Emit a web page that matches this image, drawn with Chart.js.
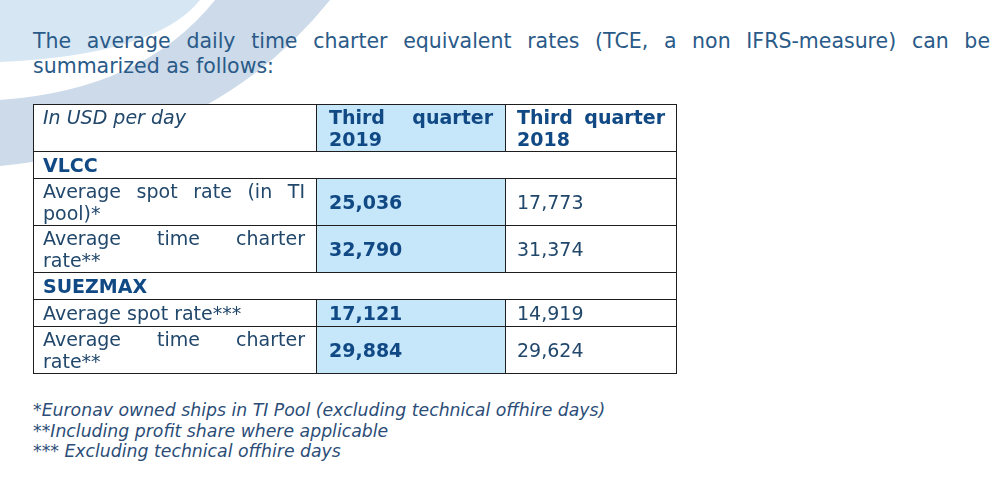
<!DOCTYPE html>
<html>
<head>
<meta charset="utf-8">
<script src="https://cdn.jsdelivr.net/npm/chart.js@4.4.1/dist/chart.umd.min.js"></script>
<style>
html, body { margin: 0; padding: 0; background: #fff; }
body { width: 1000px; height: 479px; position: relative; overflow: hidden; font-family: "DejaVu Sans", Verdana, sans-serif; }
#bg { position: absolute; left: 0; top: 0; }
#intro { position: absolute; left: 33px; top: 29px; width: 957px; font-size: 20.5px; line-height: 25px; color: #2a5a88; }
#intro .l1 { text-align: justify; text-align-last: justify; white-space: nowrap; }
#box { position: absolute; left: 32px; top: 103px; }
#notes { position: absolute; left: 33px; top: 400px; font-style: italic; font-size: 17.3px; line-height: 20.5px; color: #2b4d77; }
</style>
</head>
<body>
<svg id="bg" width="1000" height="479">
  <path d="M0,0 L200,0 Q156,55 0,62 Z" fill="#d7e6f3"/>
  <path d="M215,0 L330,0 Q214,145 0,166 L0,100 Q143,90 215,0 Z" fill="#ccdae9"/>
</svg>
<div id="intro">
  <div class="l1">The average daily time charter equivalent rates (TCE, a non IFRS-measure) can be</div>
  <div>summarized as follows:</div>
</div>
<div id="box"><canvas id="tbl"></canvas></div>
<div id="notes"></div>
<script>
// table content
const columnHeads = ['In USD per day', 'Third quarter 2019', 'Third quarter 2018'];
const segmentNames = ['VLCC', 'SUEZMAX'];
const rateLabels = ['Average spot rate (in TI pool)*', 'Average time charter rate**', 'Average spot rate***', 'Average time charter rate**'];
const rateSegments = ['VLCC', 'VLCC', 'SUEZMAX', 'SUEZMAX'];
const q3_2019 = [25036, 32790, 17121, 29884];
const q3_2018 = [17773, 31374, 14919, 29624];
const footnotes = [
  '*Euronav owned ships in TI Pool (excluding technical offhire days)',
  '**Including profit share where applicable',
  '*** Excluding technical offhire days'
];

// layout
var colEdges = [0, 283, 472, 644];
var padL = [10, 13, 12];
var padR = [11, 12, 12];
var fontPx = 19;
var lineStep = 22;
var regularColor = '#21476b';
var boldColor = '#114984';
var shade = '#c6e6fa';
var family = '"DejaVu Sans", Verdana, sans-serif';

document.getElementById('notes').innerHTML = footnotes.map(function(t){ return '<div>' + t.replace(/</g, '&lt;') + '</div>'; }).join('');

function cellFont(kind, c) {
  if (kind === 'head') return (c === 0 ? 'italic ' : 'bold ') + fontPx + 'px ' + family;
  if (kind === 'seg') return 'bold ' + fontPx + 'px ' + family;
  return (c === 1 ? 'bold ' : '') + fontPx + 'px ' + family;
}

var mctx = document.createElement('canvas').getContext('2d');
function wrap(text, font, width) {
  mctx.font = font;
  var words = text.split(' '), lines = [], cur = [];
  words.forEach(function(w){
    var t = cur.concat(w).join(' ');
    if (cur.length && mctx.measureText(t).width > width) { lines.push(cur); cur = [w]; }
    else cur.push(w);
  });
  lines.push(cur);
  return lines;
}

var rows = [{kind: 'head', texts: columnHeads}];
segmentNames.forEach(function(seg){
  rows.push({kind: 'seg', texts: [seg]});
  rateLabels.forEach(function(lab, i){
    if (rateSegments[i] !== seg) return;
    rows.push({kind: 'rate', texts: [lab, q3_2019[i].toLocaleString('en-US'), q3_2018[i].toLocaleString('en-US')]});
  });
});

var yPos = 0;
rows.forEach(function(row, r){
  var n = 1;
  row.lines = row.texts.map(function(t, c){
    var w = row.kind === 'seg' ? colEdges[3] - padL[0] - padR[2] : colEdges[c + 1] - colEdges[c] - padL[c] - padR[c];
    var l = wrap(t, cellFont(row.kind, c), w);
    n = Math.max(n, l.length);
    return l;
  });
  row.h = (n === 1 ? 27 : 47) + (r === rows.length - 1 ? 1 : 0);
  row.top = yPos;
  row.mid = yPos + row.h / 2;
  yPos += row.h;
});
var tableH = yPos;

var canvas = document.getElementById('tbl');
canvas.width = colEdges[3] + 2;
canvas.height = tableH + 2;

var cellText = {
  id: 'cellText',
  afterDatasetsDraw: function(chart) {
    var ctx = chart.ctx;
    ctx.save();
    rows.forEach(function(row, r){
      var meta = chart.getDatasetMeta(r);
      meta.data.forEach(function(bar, c){
        var left = Math.min(bar.x, bar.base), right = Math.max(bar.x, bar.base);
        var top = bar.y - bar.height / 2, h = bar.height;
        if (r === rows.length - 1) h -= 1;
        var lines = row.lines[c];
        ctx.font = cellFont(row.kind, c);
        ctx.fillStyle = (row.kind === 'seg' || (row.kind === 'head' && c > 0) || (row.kind === 'rate' && c === 1)) ? boldColor : regularColor;
        ctx.textBaseline = 'alphabetic';
        ctx.textAlign = 'left';
        var x0 = left + padL[c];
        var w = right - (row.kind === 'seg' ? padR[2] : padR[c]) - x0;
        var cy = (row.kind === 'head' && c === 0) ? top + 13 : top + h / 2 - (lines.length - 1) * lineStep / 2;
        lines.forEach(function(words, li){
          var base = cy + li * lineStep + 7;
          if (li < lines.length - 1 && words.length > 1) {
            var ws = words.map(function(wd){ return ctx.measureText(wd).width; });
            var sum = ws.reduce(function(a, b){ return a + b; }, 0);
            var gap = (w - sum) / (words.length - 1);
            var xx = x0;
            words.forEach(function(wd, k){ ctx.fillText(wd, xx, base); xx += ws[k] + gap; });
          } else {
            ctx.fillText(words.join(' '), x0, base);
          }
        });
      });
    });
    ctx.restore();
  }
};

new Chart(canvas, {
  type: 'bar',
  data: {
    datasets: rows.map(function(row, r){
      return {
        label: 'row' + r,
        stack: 'table',
        barThickness: row.h,
        inflateAmount: 0,
        borderSkipped: false,
        clip: false,
        data: row.texts.map(function(t, c){
          return {y: row.mid, x: row.kind === 'seg' ? [colEdges[0], colEdges[3]] : [colEdges[c], colEdges[c + 1]]};
        }),
        backgroundColor: row.texts.map(function(t, c){ return (row.kind !== 'seg' && c === 1) ? shade : '#ffffff'; }),
        borderColor: '#1e1e1e',
        borderWidth: function(ctx){
          var c = ctx.dataIndex;
          return {top: 1, left: 1, right: (row.kind === 'seg' || c === 2) ? 1 : 0, bottom: r === rows.length - 1 ? 1 : 0};
        }
      };
    })
  },
  options: {
    indexAxis: 'y',
    responsive: false,
    animation: false,
    events: [],
    layout: {padding: {left: 1, right: 1, top: 1, bottom: 1}, autoPadding: false},
    plugins: {legend: {display: false}, tooltip: {enabled: false}},
    scales: {
      x: {type: 'linear', min: colEdges[0], max: colEdges[3], stacked: false, offset: false, display: false},
      y: {type: 'linear', min: 0, max: tableH, reverse: true, offset: false, grace: 0, display: false}
    }
  },
  plugins: [cellText]
});
</script>
</body>
</html>
